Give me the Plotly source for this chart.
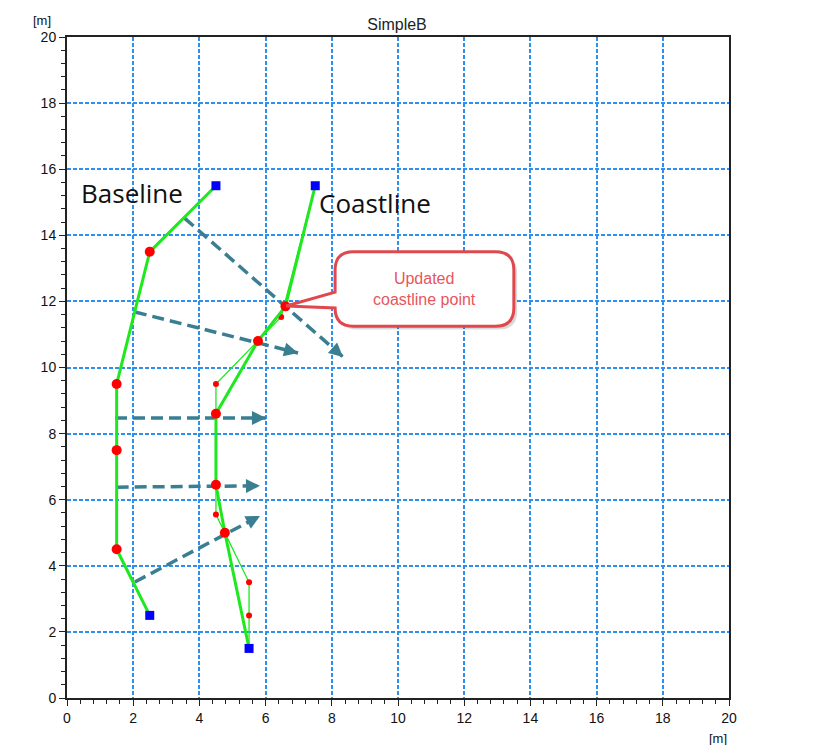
import plotly.graph_objects as go

# baseline polyline (thick green), end points are blue squares
base_x = [4.5, 2.5, 1.5, 1.5, 1.5, 2.5]
base_y = [15.5, 13.5, 9.5, 7.5, 4.5, 2.5]

# updated coastline (thick green)
coast_x = [7.5, 6.6, 5.77, 4.5, 4.5, 4.77, 5.5]
coast_y = [15.5, 11.85, 10.8, 8.6, 6.45, 5.0, 1.5]

# original coastline (thin green)
old_x = [7.5, 6.47, 4.5, 4.5, 5.5, 5.5, 5.5]
old_y = [15.5, 11.53, 9.5, 5.55, 3.5, 2.5, 1.5]

# dashed arrows (start -> end)
arr_x0 = [3.55, 2.05, 1.45, 1.5, 2.05]
arr_y0 = [14.52, 11.68, 8.47, 6.38, 3.51]
arr_x1 = [8.34, 6.98, 6.01, 5.83, 5.83]
arr_y1 = [10.32, 10.44, 8.47, 6.42, 5.51]

ticks = [0, 2, 4, 6, 8, 10, 12, 14, 16, 18, 20]

GREEN = "#1fe81f"
ARROW = "#3a7e92"
FONT = "Liberation Sans, Arial"

fig = go.Figure()

# old coastline, thin
fig.add_trace(go.Scatter(x=old_x, y=old_y, mode="lines",
                         line=dict(color=GREEN, width=1.3), hoverinfo="skip"))
fig.add_trace(go.Scatter(x=old_x[1:-1], y=old_y[1:-1], mode="markers",
                         marker=dict(color="#ff0000", size=6), hoverinfo="skip"))

# dashed arrows: shaft as a trace, head as an annotation
for x0, y0, x1, y1 in zip(arr_x0, arr_y0, arr_x1, arr_y1):
    fig.add_trace(go.Scatter(x=[x0, x1], y=[y0, y1], mode="lines",
                             line=dict(color=ARROW, width=3.5, dash="12px,6px"),
                             hoverinfo="skip"))
    dx, dy = x1 - x0, y1 - y0
    n = (dx ** 2 + dy ** 2) ** 0.5
    fig.add_annotation(x=x1, y=y1, ax=x1 - 0.25 * dx / n, ay=y1 - 0.25 * dy / n,
                       xref="x", yref="y", axref="x", ayref="y", text="",
                       showarrow=True, arrowhead=2, arrowsize=0.8,
                       arrowwidth=3.5, arrowcolor=ARROW)

# baseline and coastline, thick
for xs, ys in ((base_x, base_y), (coast_x, coast_y)):
    fig.add_trace(go.Scatter(x=xs, y=ys, mode="lines",
                             line=dict(color=GREEN, width=3), hoverinfo="skip"))
    fig.add_trace(go.Scatter(x=xs[1:-1], y=ys[1:-1], mode="markers",
                             marker=dict(color="#ff0000", size=10), hoverinfo="skip"))
    fig.add_trace(go.Scatter(x=[xs[0], xs[-1]], y=[ys[0], ys[-1]], mode="markers",
                             marker=dict(color="#0000ff", size=9, symbol="square"),
                             hoverinfo="skip"))

# callout bubble
bubble = ("M 8.65,13.5 L 12.95,13.5 Q 13.5,13.5 13.5,12.95 L 13.5,11.8 "
          "Q 13.5,11.25 12.95,11.25 L 8.65,11.25 Q 8.1,11.25 8.1,11.8 "
          "L 6.62,11.86 L 8.1,12.28 L 8.1,12.95 Q 8.1,13.5 8.65,13.5 Z")
shadow = ("M 8.75,13.4 L 13.05,13.4 Q 13.6,13.4 13.6,12.85 L 13.6,11.7 "
          "Q 13.6,11.15 13.05,11.15 L 8.75,11.15 Q 8.2,11.15 8.2,11.7 Z")
fig.add_shape(type="path", path=shadow, xref="x", yref="y",
              fillcolor="rgba(0,0,0,0.15)", line=dict(width=0))
fig.add_shape(type="path", path=bubble, xref="x", yref="y",
              fillcolor="white", line=dict(color="#e0484e", width=3))
fig.add_annotation(x=10.8, y=12.38, xref="x", yref="y", showarrow=False,
                   text="Updated<br>coastline point",
                   font=dict(family=FONT, size=16, color="#e8555c"))

fig.add_annotation(x=0.35, y=15.28, xref="x", yref="y", xanchor="left", showarrow=False,
                   text="Baseline", font=dict(family="Open Sans", size=26, color="#111"))
fig.add_annotation(x=7.55, y=14.98, xref="x", yref="y", xanchor="left", showarrow=False,
                   text="Coastline", font=dict(family="Open Sans", size=26, color="#111"))

# unit labels
fig.add_annotation(x=0, y=1, xref="paper", yref="paper", xshift=-25, yshift=17,
                   xanchor="center", yanchor="middle", text="[m]", showarrow=False,
                   font=dict(family=FONT, size=13, color="#111"))
fig.add_annotation(x=1, y=0, xref="paper", yref="paper", xshift=0, yshift=-31,
                   xanchor="right", yanchor="top", text="[m]", showarrow=False,
                   font=dict(family=FONT, size=13, color="#111"))

axis = dict(range=[0, 20], tickvals=ticks, showgrid=True, gridcolor="#2f8ff0",
            gridwidth=2, griddash="4px,2px", zeroline=False, showline=True,
            linecolor="#222", linewidth=2, mirror=True, ticks="outside",
            ticklen=6, tickcolor="#222",
            minor=dict(dtick=0.4, ticks="outside", ticklen=4, tickcolor="#222",
                       showgrid=False),
            tickfont=dict(family=FONT, size=14, color="#111"))

# page body has an 8px margin, so the figure is shrunk by that much
fig.update_layout(
    width=819, height=737,
    margin=dict(l=59, r=98, t=29, b=47),
    plot_bgcolor="white", paper_bgcolor="white",
    showlegend=False,
    title=dict(text="SimpleB", x=(397 - 8) / 819, xanchor="center",
               y=1 - 16 / 737, yanchor="middle",
               font=dict(family=FONT, size=16, color="#222")),
    xaxis=axis, yaxis=axis,
)

fig.write_html("out.html")
